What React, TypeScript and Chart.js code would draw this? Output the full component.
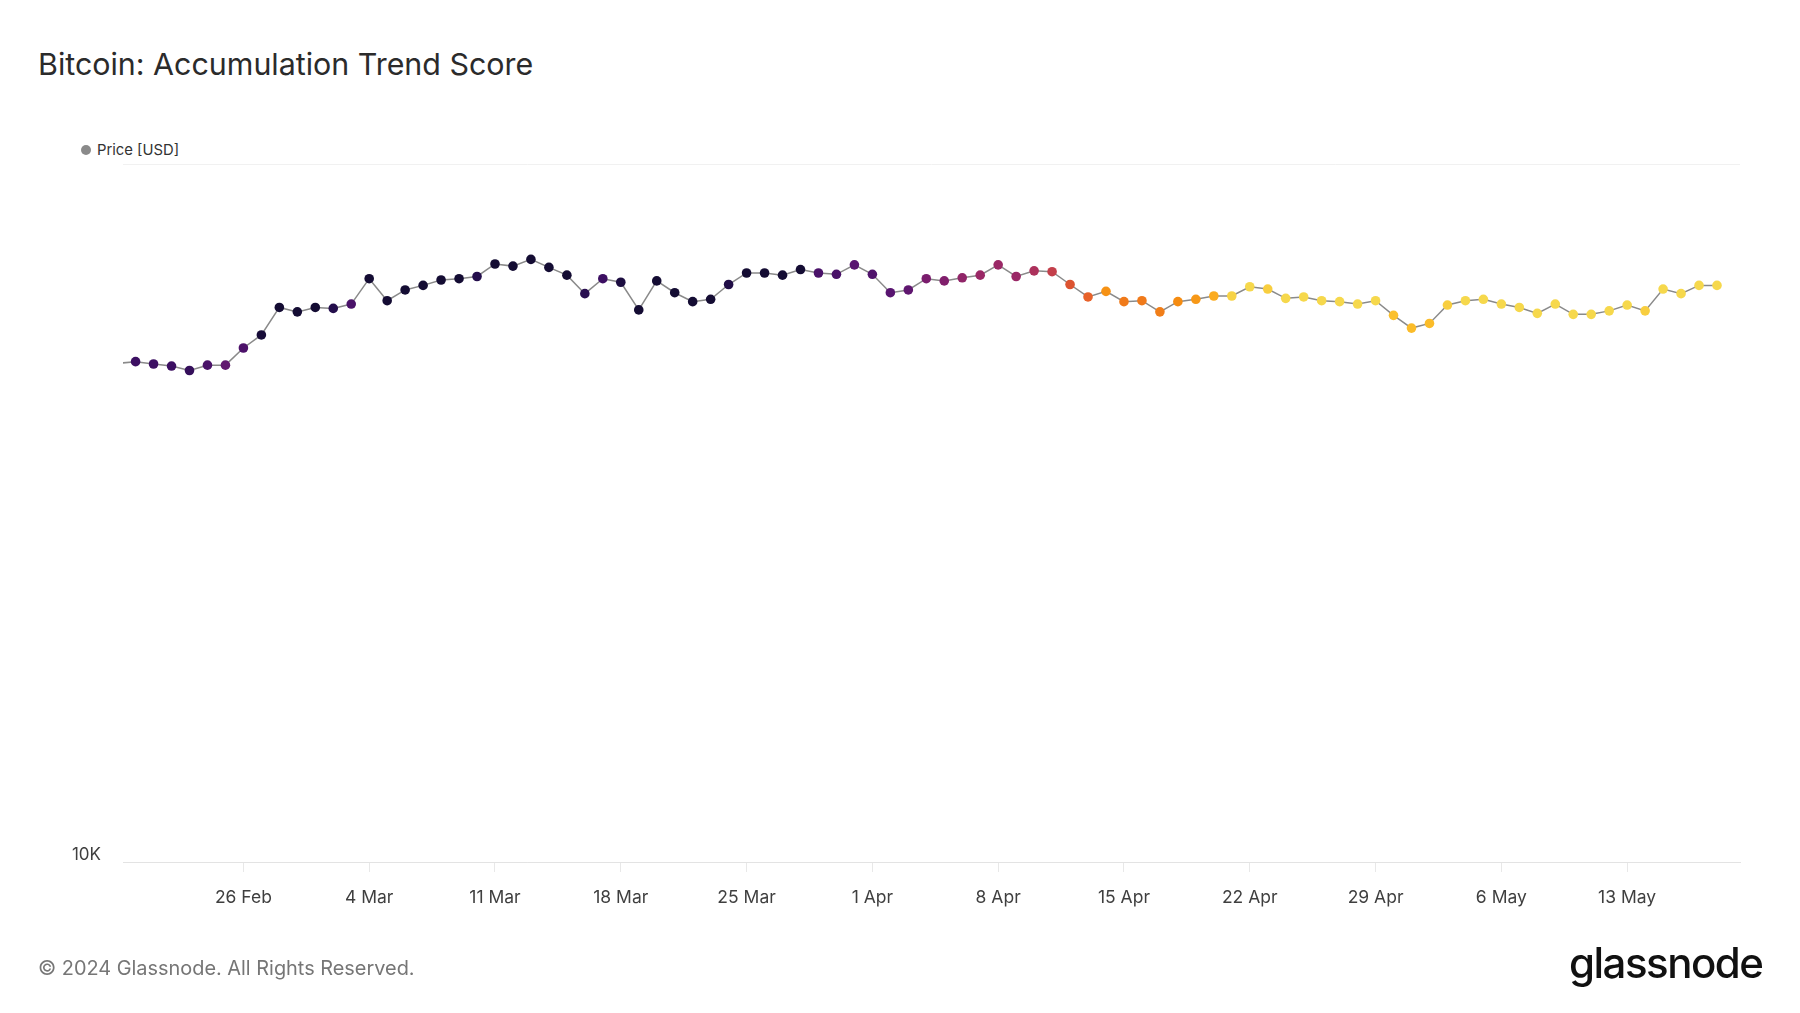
import React, { useEffect, useRef } from "react";
import { Chart, registerables } from "chart.js";

Chart.register(...registerables);

// First day of the series (daily closes, UTC)
const startDate = "2024-02-19";

// BTC price in USD, one per day from 19 Feb 2024 to 18 May 2024
const prices = [
  51800, 52100, 51700, 51350, 50600, 51500, 51500, 54500, 56900, 62300, 61400,
  62300, 62100, 63000, 68500, 63700, 66000, 67000, 68200, 68500, 69000, 71900,
  71400, 73000, 71100, 69300, 65200, 68500, 67700, 61800, 68000, 65400, 63500,
  64000, 67200, 69800, 69800, 69300, 70600, 69800, 69500, 71700,
  69500, 65400, 66000, 68500, 68000, 68700, 69300, 71700, 69000, 70300, 70100,
  67200, 64500, 65700, 63500, 63700, 61400, 63500, 64000, 64700, 64700, 66700,
  66200, 64200, 64500, 63700, 63500, 63000, 63700, 60700,
  58200, 59100, 62800, 63700, 64000, 63000, 62300, 61100, 63000, 60900, 60900,
  61600, 62800, 61600, 66200, 65200, 67000, 67000,
];

// Accumulation trend score (0..1), drives the point colour
const scores = [
  0.2, 0.2, 0.2, 0.2, 0.17, 0.25, 0.33, 0.26, 0.02, 0, 0,
  0, 0.1, 0.25, 0, 0, 0, 0, 0, 0, 0.1, 0, 0, 0, 0, 0, 0.12, 0.2, 0.05, 0, 0, 0,
  0, 0, 0.08, 0, 0, 0, 0, 0.25, 0.25, 0.3,
  0.27, 0.3, 0.32, 0.4, 0.42, 0.47, 0.5, 0.5, 0.5, 0.55, 0.62, 0.7, 0.75, 0.86,
  0.8, 0.8, 0.81, 0.85, 0.87, 0.9, 0.99, 1, 0.98, 1, 1, 1, 1, 1, 1, 0.95,
  0.94, 0.94, 0.98, 1, 1, 1, 1, 1, 1, 1, 1, 1, 1, 0.98, 1, 1, 1, 1,
];

// X-axis ticks (Mondays)
const tickDates = [
  "2024-02-26", "2024-03-04", "2024-03-11", "2024-03-18", "2024-03-25",
  "2024-04-01", "2024-04-08", "2024-04-15", "2024-04-22", "2024-04-29",
  "2024-05-06", "2024-05-13",
];
const tickLabels = [
  "26 Feb", "4 Mar", "11 Mar", "18 Mar", "25 Mar", "1 Apr", "8 Apr",
  "15 Apr", "22 Apr", "29 Apr", "6 May", "13 May",
];

// Visible window (days from startDate)
const xMinDay = 0.3;
const xMaxDay = 90.28;

// Y axis
const yTicks = [10000, 100000];
const yTickLabels = ["10K", ""];

// Colour scale for the score
const paletteStops: [number, string][] = [
  [0.0, "#140c33"],
  [0.1, "#240e4c"],
  [0.2, "#3c0f62"],
  [0.3, "#581470"],
  [0.4, "#7a1d6d"],
  [0.5, "#9a2866"],
  [0.6, "#bd3a52"],
  [0.7, "#dc5330"],
  [0.75, "#e8622a"],
  [0.8, "#f07a1a"],
  [0.85, "#f58c12"],
  [0.9, "#fbab1f"],
  [0.95, "#fbc02c"],
  [1.0, "#f6d84c"],
];

const DAY = 86400000;
const t0 = Date.parse(startDate + "T00:00:00Z");
const dayOf = (d: string) => (Date.parse(d + "T00:00:00Z") - t0) / DAY;

function hexToRgb(h: string) {
  const n = parseInt(h.slice(1), 16);
  return [(n >> 16) & 255, (n >> 8) & 255, n & 255];
}
function colorFor(s: number) {
  for (let i = 0; i < paletteStops.length - 1; i++) {
    const [a, ca] = paletteStops[i];
    const [b, cb] = paletteStops[i + 1];
    if (s <= b) {
      const t = b === a ? 0 : Math.max(0, (s - a) / (b - a));
      const A = hexToRgb(ca);
      const B = hexToRgb(cb);
      const c = A.map((v, k) => Math.round(v + (B[k] - v) * t));
      return `rgb(${c[0]},${c[1]},${c[2]})`;
    }
  }
  return paletteStops[paletteStops.length - 1][1];
}

export default function App() {
  const ref = useRef<HTMLCanvasElement>(null);

  useEffect(() => {
    if (!ref.current) return;
    const points = prices.map((p, i) => ({ x: i, y: p }));
    const colors = scores.map(colorFor);
    const tickDays = tickDates.map(dayOf);

    const chart = new Chart(ref.current, {
      type: "line",
      data: {
        datasets: [
          {
            label: "Price [USD]",
            data: points,
            borderColor: "#8a8a8a",
            borderWidth: 1.5,
            pointRadius: 4.8,
            pointHoverRadius: 4.8,
            pointBorderWidth: 0,
            pointBackgroundColor: colors,
            tension: 0,
            clip: 0,
          } as any,
        ],
      },
      options: {
        animation: false,
        responsive: false,
        devicePixelRatio: 1,
        layout: { padding: { top: 164, right: 60, bottom: 91, left: 0 } },
        plugins: {
          legend: { display: false },
          tooltip: { enabled: false },
        },
        scales: {
          x: {
            type: "linear",
            min: xMinDay,
            max: xMaxDay,
            afterBuildTicks: (axis: any) => {
              axis.ticks = tickDays.map((v) => ({ value: v }));
            },
            afterFit: (axis: any) => {
              axis.height = 60;
            },
            ticks: {
              autoSkip: false,
              maxRotation: 0,
              padding: 15,
              color: "#3f3f3f",
              font: { family: "Inter", size: 17.5 },
              callback: (v: any) => {
                const i = tickDays.indexOf(Number(v));
                return i >= 0 ? tickLabels[i] : "";
              },
            },
            grid: {
              drawOnChartArea: false,
              drawTicks: true,
              tickLength: 10,
              color: "#e8e8e8",
            },
            border: { display: true, color: "#e3e3e3" },
          },
          y: {
            type: "logarithmic",
            min: 10000,
            max: 100000,
            afterBuildTicks: (axis: any) => {
              axis.ticks = yTicks.map((v) => ({ value: v }));
            },
            afterFit: (axis: any) => {
              axis.width = 123;
            },
            ticks: {
              padding: 22,
              labelOffset: -7,
              color: "#3f3f3f",
              font: { family: "Inter", size: 17 },
              callback: (v: any) => {
                const i = yTicks.indexOf(Number(v));
                return i >= 0 ? yTickLabels[i] : "";
              },
            },
            grid: {
              drawTicks: false,
              color: (ctx: any) =>
                ctx.tick && ctx.tick.value === 10000 ? "#e3e3e3" : "#f1f1f1",
            },
            border: { display: false },
          },
        },
      },
    });
    return () => chart.destroy();
  }, []);

  return (
    <div
      style={{
        position: "absolute",
        left: 0,
        top: 0,
        width: 1800,
        height: 1013,
        background: "#ffffff",
        fontFamily: "Inter, 'Noto Sans', sans-serif",
        overflow: "hidden",
      }}
    >
      <div
        style={{
          position: "absolute",
          left: 38,
          top: 46,
          fontSize: 30.4,
          lineHeight: "36px",
          color: "#2b2b2b",
          whiteSpace: "nowrap",
        }}
      >
        Bitcoin: Accumulation Trend Score
      </div>
      <div
        style={{
          position: "absolute",
          left: 81,
          top: 141,
          height: 18,
          display: "flex",
          alignItems: "center",
          fontSize: 14.8,
          color: "#333",
          whiteSpace: "nowrap",
        }}
      >
        <span
          style={{
            display: "inline-block",
            width: 10,
            height: 10,
            borderRadius: 5,
            background: "#8a8a8a",
            marginRight: 6,
          }}
        />
        Price [USD]
      </div>
      <canvas
        ref={ref}
        width={1800}
        height={1013}
        style={{ position: "absolute", left: 0, top: 0, width: 1800, height: 1013 }}
      />
      <div
        style={{
          position: "absolute",
          left: 38,
          top: 955,
          fontSize: 19.9,
          lineHeight: "26px",
          color: "#767676",
          whiteSpace: "nowrap",
        }}
      >
        © 2024 Glassnode. All Rights Reserved.
      </div>
      <div
        style={{
          position: "absolute",
          left: 1569,
          top: 938,
          fontSize: 42,
          lineHeight: "50px",
          fontWeight: 500,
          letterSpacing: "-1.5px",
          color: "#111",
          whiteSpace: "nowrap",
        }}
      >
        glassnode
      </div>
    </div>
  );
}
